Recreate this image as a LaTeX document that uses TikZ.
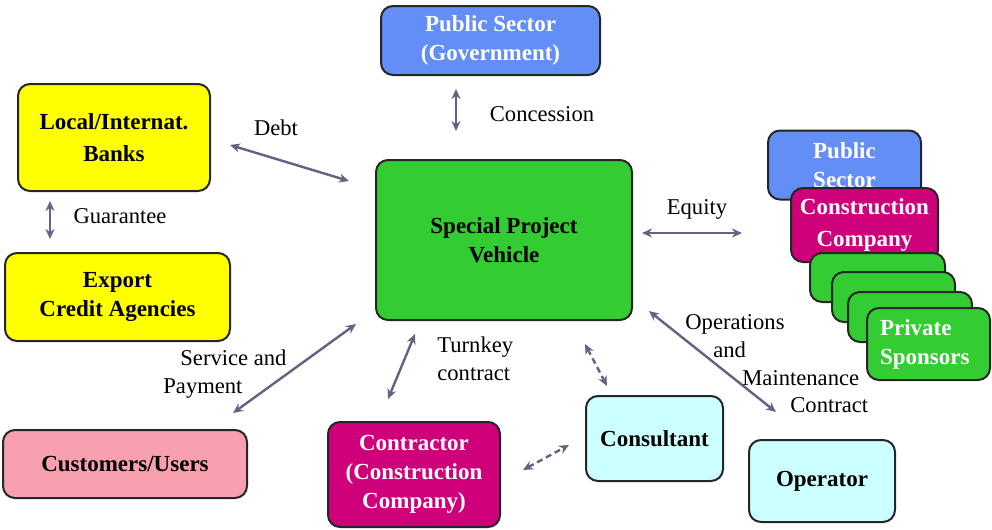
\documentclass[tikz,border=0pt]{standalone}
\usepackage{fontspec}
\setmainfont{Liberation Serif}
\usetikzlibrary{arrows.meta, calc}
\definecolor{govblue}{RGB}{98,142,246}
\definecolor{bankyellow}{RGB}{255,255,0}
\definecolor{spvgreen}{RGB}{51,204,51}
\definecolor{userpink}{RGB}{248,160,176}
\definecolor{buildmagenta}{RGB}{206,0,122}
\definecolor{advcyan}{RGB}{204,255,255}
\definecolor{linkgray}{RGB}{98,98,130}

\begin{document}
\begin{tikzpicture}[x=0.5pt, y=-0.5pt,
  box/.style={draw=black!85, line width=1pt, rounded corners=6pt, align=center,
    font=\fontsize{11.5}{14.5}\selectfont\bfseries, inner sep=2pt},
  lbl/.style={font=\fontsize{11.3}{13.8}\selectfont, align=center, inner sep=0pt},
  link/.style={<->, >={Stealth[length=5pt,width=4.5pt]}, draw=linkgray, line width=1.2pt},
  dlink/.style={link, dash pattern=on 3pt off 2pt}]
\useasboundingbox (0,0) rectangle (992,530);
\path
(490.5,40.5) node[box, fill=govblue, text=white, minimum width=109.5pt, minimum height=34.5pt] (gov) {Public Sector\\(Government)};
\path
(114,137.5) node[box, fill=bankyellow, minimum width=96pt, minimum height=53.5pt,
  font=\fontsize{11.5}{16}\selectfont\bfseries] (banks) {Local/Internat.\\Banks};
\path
(117.5,297) node[box, fill=bankyellow, minimum width=112.5pt, minimum height=44pt] (eca) {Export\\Credit Agencies};
\path
(504,240) node[box, fill=spvgreen, minimum width=128pt, minimum height=80pt] (spv) {Special Project\\Vehicle};
\path
(125,464) node[box, fill=userpink, minimum width=122pt, minimum height=34pt] (cust) {Customers/Users};
\path
(414,474.5) node[box, fill=buildmagenta, text=white, minimum width=86pt, minimum height=52.5pt] (contr) {Contractor\\(Construction\\Company)};
\path
(654.5,438.5) node[box, fill=advcyan, minimum width=68.5pt, minimum height=42.5pt] (cons) {Consultant};
\path
(822,481) node[box, fill=advcyan, minimum width=73pt, minimum height=41pt] (oper) {Operator};
\path
(844.5,165) node[box, fill=govblue, text=white, minimum width=76.5pt, minimum height=34.5pt] (pubeq) {Public\\Sector};
\path
(864.5,225) node[box, fill=buildmagenta, text=white, minimum width=73.5pt, minimum height=37pt,
  font=\fontsize{11.5}{16}\selectfont\bfseries] (buildeq) {Construction\\Company};
\path
(877.5,277.5) node[box, fill=spvgreen, minimum width=67.5pt, minimum height=24.5pt] (spons1) {};
\path
(893.5,297) node[box, fill=spvgreen, minimum width=61.5pt, minimum height=25pt] (spons2) {};
\path
(910,317) node[box, fill=spvgreen, minimum width=62pt, minimum height=25pt] (spons3) {};
\path
(928.5,344) node[box, fill=spvgreen, text=white, minimum width=61.5pt, minimum height=36pt,
  align=left, inner xsep=6.5pt, text width=48.5pt] (privspons) {Private\\Sponsors};

\draw[link] ($(gov.south)+(-34.5,13)$) -- ($(spv.north)+(-48,-28)$);
\draw[link] ($(banks.east)+(19,7.5)$) -- ($(spv.west)+(-26,-59)$);
\draw[link] ($(banks.south)+(-64,9)$) -- ($(eca.north)+(-67.5,-13)$);
\draw[link] ($(spv.east)+(9,-7)$) -- ($(buildeq.west)+(-48,8)$);
\draw[link] ($(spv.south west)+(-19,3)$) -- ($(cust.north east)+(-15,-16)$);
\draw[link] ($(spv.south)+(-89,13)$) -- ($(contr.north)+(-26,-22)$);
\draw[dlink] ($(spv.south)+(81,23)$) -- ($(cons.north)+(-47.5,-9)$);
\draw[dlink] ($(contr.east)+(22,-4.5)$) -- ($(cons.west)+(-16,6.5)$);
\draw[link] ($(spv.south east)+(16,-10)$) -- ($(oper.north)+(-46,-27)$);

\path
(542,114) node[lbl] (concessionlbl) {Concession};
\path
(276,128) node[lbl] (debtlbl) {Debt};
\path
(120,216) node[lbl] (guaranteelbl) {Guarantee};
\path
(697,209) node[lbl] (equitylbl) {Equity};
\path
(163,374) node[lbl, anchor=west, align=left] (servicelbl) {\hspace*{8.5pt}Service and\\Payment};
\path
(437,359) node[lbl, anchor=west, align=left] (turnkeylbl) {Turnkey\\contract};
\path
(685,364) node[lbl, anchor=west, align=left] (omlbl) {Operations\\\hspace*{14pt}and\\\hspace*{28.5pt}Maintenance\\\hspace*{52.5pt}Contract};
\end{tikzpicture}
\end{document}
